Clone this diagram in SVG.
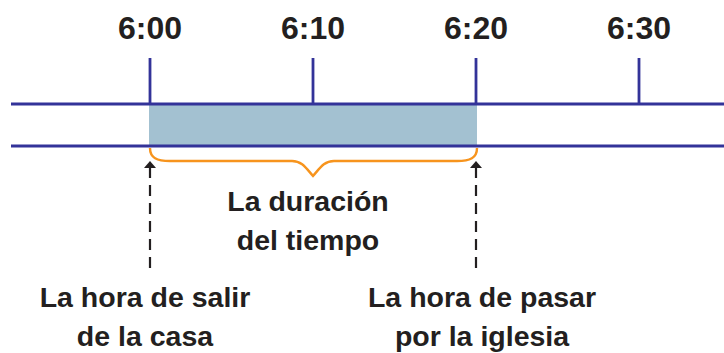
<svg xmlns="http://www.w3.org/2000/svg" width="724" height="353" viewBox="0 0 724 353">
<style>
.t{font-family:"Liberation Sans",Arial,sans-serif;font-weight:bold;fill:#231f20;text-anchor:middle}
.time{font-size:32px}
.lbl{font-size:28.5px}
.axis{stroke:#333399;stroke-width:2.8;fill:none}
.dash{stroke:#231f20;stroke-width:2.2;stroke-dasharray:11 7;fill:none}
</style>
<rect x="149" y="105" width="328" height="40" fill="#a3c1d1"/>
<g id="timeline">
<line class="axis" x1="11" y1="104" x2="724" y2="104"/>
<line class="axis" x1="11" y1="146" x2="724" y2="146"/>
<line class="axis" x1="150" y1="58" x2="150" y2="104"/>
<line class="axis" x1="313" y1="58" x2="313" y2="104"/>
<line class="axis" x1="476" y1="58" x2="476" y2="104"/>
<line class="axis" x1="639" y1="58" x2="639" y2="104"/>
</g>
<g id="labels-time">
<text class="t time" x="150" y="39">6:00</text>
<text class="t time" x="313" y="39">6:10</text>
<text class="t time" x="476" y="39">6:20</text>
<text class="t time" x="639" y="39">6:30</text>
</g>
<g id="brace">
<path d="M150,148 C150,158 157,161 170,161 L292,161 C302,161 306,168 313,176 C320,168 324,161 334,161 L457,161 C470,161 477,158 477,148" fill="none" stroke="#f7941d" stroke-width="2.4"/>
</g>
<g id="connectors">
<path class="dash" d="M150,268 L150,168"/>
<path d="M144,168 L150,161 L156,168 Z" fill="#231f20"/>
<path class="dash" d="M476,268 L476,168"/>
<path d="M470,168 L476,161 L482,168 Z" fill="#231f20"/>
</g>
<g id="duracion">
<text class="t lbl" x="308" y="211">La duración</text>
<text class="t lbl" x="308" y="250">del tiempo</text>
</g>
<g id="salir">
<text class="t lbl" x="145" y="307">La hora de salir</text>
<text class="t lbl" x="145" y="346">de la casa</text>
</g>
<g id="pasar">
<text class="t lbl" x="482" y="307">La hora de pasar</text>
<text class="t lbl" x="482" y="346">por la iglesia</text>
</g>
</svg>
